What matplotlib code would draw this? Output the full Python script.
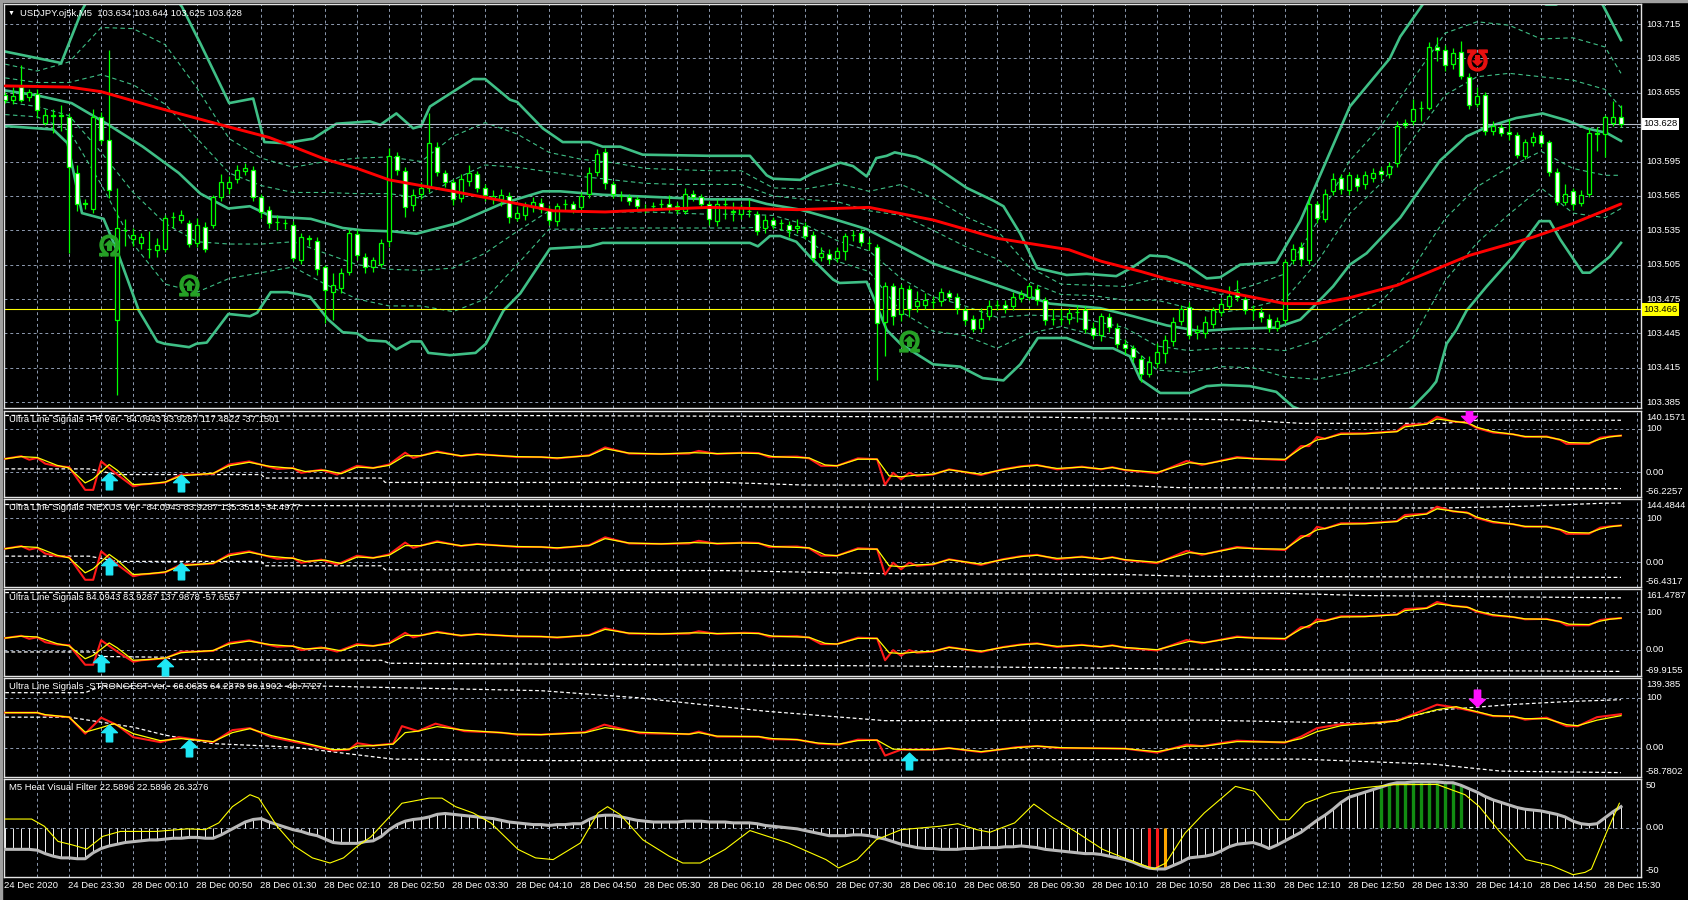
import numpy as np
import matplotlib.pyplot as plt
from matplotlib.path import Path
from matplotlib.markers import MarkerStyle
from matplotlib.transforms import Affine2D, blended_transform_factory
from matplotlib.patches import Rectangle

plt.rcParams['font.family'] = ['Liberation Sans', 'DejaVu Sans']
plt.rcParams['font.size'] = 6.8

# ---------------- main chart data (price in 0.001 above 103.000) ----------------
bar_open = [653,649,660,651,654,629,635,636,634,585, 559,554,634,614,457,535,527,524,519,518,
            519,547,544,541,524,538,540,564,572,580, 587,588,564,553,542,541,540,509,528,526,
            503,481,485,499,532,512,503,506,526,600, 587,557,567,572,608,585,577,563,578,584,
            572,562,562,565,546,548,555,559,554,543, 558,558,555,567,586,603,575,565,564,562,
            554,556,558,558,556,552,567,564,558,543, 558,551,549,552,549,537,544,541,540,537,
            539,531,512,514,511,517,531,533,524,520, 455,486,462,484,469,470,472,473,480,477,
            465,458,450,460,470,470,469,476,477,484, 474,458,458,458,464,465,450,444,459,450,
            436,432,423,410,419,428,438,456,468,446, 445,453,464,469,481,475,465,464,458,450,
            457,509,520,509,558,545,569,581,570,581, 575,581,587,584,594,629,630,642,642,695,
            692,680,691,669,645,653,622,625,621,618, 600,612,618,612,586,560,569,559,567,620,
            619,629,634]
bar_close = [649,652,649,656,640,636,636,635,590,558, 558,634,614,570,537,535,531,529,519,522,
             546,547,548,523,540,519,564,577,577,588, 589,564,551,541,542,541,511,529,527,501,
             483,487,498,533,513,503,509,524,600,588, 555,566,572,611,586,577,562,580,585,572,
             566,565,566,547,550,556,560,554,544,556, 558,554,565,585,602,576,567,565,561,556,
             554,556,558,555,553,567,564,558,545,558, 558,552,555,552,534,544,540,541,535,539,
             530,511,515,510,517,530,531,525,524,454, 486,460,485,466,473,474,472,481,477,467,
             457,449,458,469,470,467,477,479,486,474, 457,458,458,463,464,449,444,460,451,436,
             432,424,410,420,429,439,455,466,444,448, 455,465,471,478,477,465,465,459,450,456,
             507,519,510,558,546,567,580,571,583,574, 583,585,584,591,626,627,641,642,695,692,
             679,690,670,644,652,622,626,620,619,601, 612,616,611,586,560,567,558,566,620,619,
             634,634,628]
bar_high = [656,660,679,658,658,641,641,644,637,592, 562,641,638,692,572,545,537,533,534,528,
            548,551,553,544,546,542,566,584,582,592, 594,591,567,556,548,545,543,533,531,529,
            505,498,502,536,536,515,512,527,607,603, 590,571,577,637,612,588,580,584,592,587,
            575,570,571,568,556,560,564,563,557,559, 562,561,568,590,606,607,578,569,567,565,
            558,560,562,566,560,572,570,567,561,562, 563,560,558,562,552,548,547,545,543,545,
            542,534,520,519,520,533,535,536,528,523, 490,489,488,487,482,480,478,485,483,480,
            468,461,467,474,474,474,481,483,489,487, 477,466,466,467,470,469,455,463,463,454,
            440,435,426,425,437,444,459,470,472,452, 460,468,476,486,492,478,470,468,462,459,
            510,523,525,565,561,571,585,584,586,584, 587,589,590,595,630,632,650,648,699,704,
            697,694,700,672,660,656,630,628,632,621, 615,621,622,614,589,575,572,570,624,625,
            636,648,644]
bar_low = [646,645,647,648,633,627,620,622,515,552, 554,550,610,563,391,521,521,519,511,512,
           516,537,541,520,520,516,537,561,567,576, 583,561,546,537,535,536,508,506,521,496,
           454,457,480,496,509,498,499,503,520,583, 547,552,562,568,582,573,557,560,574,568,
           561,558,556,541,543,544,551,550,540,539, 553,550,551,563,582,571,563,561,557,552,
           550,552,554,551,549,549,561,555,540,539, 545,543,545,547,531,533,536,535,529,533,
           527,507,508,506,507,509,526,521,518,404, 425,452,456,459,464,466,467,469,473,462,
           452,446,446,457,465,463,465,472,474,470, 452,452,452,453,455,445,440,438,446,432,
           427,420,403,407,415,419,434,452,440,440, 441,450,460,466,473,462,457,455,446,447,
           454,506,504,506,541,542,566,567,566,569, 571,577,580,581,590,624,627,630,640,683,
           674,676,667,641,643,618,618,617,614,598, 597,609,608,582,557,557,553,556,564,604,
           599,626,625]

ma_x = [0,8,12,18.5,27,33,36,40,44,48,52,56,62,68.5,75,81,88,99,108,116,124,133,137,142,145,
        153.5,160,164,168,174,183,191,196,202]
ma_v = [661,660,656,643,627,616,608,597,589,579,574,569,561,552,551,553,555,553,555,544,528,518,
        508,499,493,480,471,471,476,487,513,529,541,558]

upper_x = [0,7,9.6,10.3,14,18,21,22.1,24.4,28,31,32.4,35,38.5,41.4,45.6,46.9,48.9,51,52,53.1,56,
           58.5,60,63.1,64,67.2,69.7,73.1,74.7,76.9,79.7,88.1,93.1,95.2,96,99.4,101,104.4,106,
           107.7,108.9,110.2,111.2,113.9,116,120.2,123.5,124.8,126.9,129,132.7,135.2,138.9,141,
           143.1,145.2,147.7,150.2,151.9,154.4,158.9,161.9,168.1,173.1,174.4,177.3,180,185,190,
           192.6,193.9,197,199.7,202]
upper_v = [691,681,727,736,760,760,740,730,698,646,650,612,611,615,628,630,627,637,624,626,643,656,
           667,667,649,647,624,612,612,608,608,601,600,600,583,580,579,585,594,591,
           582,598,600,603,599,592,572,561,556,532,502,496,497,495,503,
           513,512,505,493,494,505,507,543,643,685,704,733,760,770,750,
           732,732,745,732,701]
mid_x = [0,3.8,8.3,12.7,17.2,21.7,24.4,27.9,30.6,33.3,38.2,42.2,44.7,48.5,51.4,56.4,62,67.2,69.4,
         74.7,88.1,93.1,95.2,99.4,103.5,107.7,111.9,116,120.2,124.4,128.5,130.6,136.9,141,145.2,
         149.3,153.5,158.9,161.9,163.5,166,168.1,170.2,174.4,179.4,182.7,185.2,188.9,192.2,195.2,
         197.7,200.2,202]
mid_v = [657,653,646,628,608,585,567,554,556,547,545,537,535,534,532,541,558,569,569,
         566,562,562,558,553,545,536,521,506,496,486,476,471,467,460,452,
         447,449,450,457,468,486,505,515,546,596,617,625,633,637,631,
         624,620,613]
lower_x = [0,6,7.8,9.6,12.3,14.1,16.7,19,19.9,23,23.9,25.2,27.9,30.6,31.5,33.2,35.3,38.1,40.4,42.2,
           44,45.3,47.6,48.9,50.7,52,52.9,55.6,58.8,60.1,62.3,64.4,68.1,73.1,74.7,83.1,88.1,93.1,
           94.1,95.6,96.9,98.9,100.6,103.5,104.3,107.7,108.5,110.2,111.9,116,119.4,122.2,124.8,
           126.9,129.1,132.7,136,138.5,140.6,141.9,144.4,148.1,150.2,152.2,155.6,158.9,161,165,
           170,174,176,178.1,178.9,180.2,181.4,182.7,185.2,188.5,191.8,193.1,194.4,197.2,198.1,
           200.6,202]
lower_v = [626,623,611,550,545,515,465,438,436,433,436,437,462,460,463,481,481,477,457,446,
           445,439,438,431,438,438,428,426,428,436,465,480,519,521,524,524,524,524,
           521,530,530,525,512,492,489,490,477,448,436,418,416,406,404,
           418,441,441,432,432,425,405,393,393,399,400,399,394,381,370,
           365,372,381,396,403,436,448,465,486,512,543,543,527,498,498,
           512,524]

# inner (dashed) bands sampled every 4 bars plus the last bar
inner_x = list(range(0, 201, 4)) + [202]
inner_up2 = [680,674,682,712,711,697,659,615,598,590,595,598,599,595,617,629,619,603,597,594,589,588,
             587,587,572,571,576,569,575,563,547,535,503,488,487,486,493,486,479,487,497,542,595,626,
             667,707,717,714,702,703,695,672]
inner_up1 = [668,664,664,671,662,645,615,585,574,568,568,567,567,563,579,592,590,586,582,579,576,575,
             575,575,565,562,560,552,548,535,521,510,490,479,478,474,474,467,463,468,475,507,549,576,
             615,653,669,672,669,666,658,642]
inner_lo1 = [647,643,635,603,568,541,525,523,523,525,515,505,501,500,502,515,534,552,551,551,551,550,
             549,549,548,540,526,517,493,477,469,459,461,460,456,450,434,430,432,432,430,439,457,473,
             502,545,573,590,604,589,583,583]
inner_lo2 = [636,634,622,575,523,488,481,493,498,503,488,475,469,469,464,475,505,536,536,537,537,537,
             537,537,538,528,508,499,464,447,443,432,445,451,444,439,413,411,416,415,407,405,411,421,
             441,491,524,549,572,550,546,554]

price_ticks = [103.385,103.415,103.445,103.475,103.505,103.535,103.565,103.595,103.625,103.655,103.685,103.715]
price_now = 103.628
price_line_yellow = 103.466

sig_up_x, sig_up_v = [13, 23, 113], [522, 487, 438]
sig_dn_x, sig_dn_v = [184], [684]

# ---------------- Ultra Line Signals (FR / NEXUS / plain share lines) ----------------
uls_red_x = [0,2,3,4,5,6.5,8,10,11,12,14,16,17,20,22,24,26,28,30.5,32.5,34,36,37,39.5,41.5,44,46,48,50,51,
             54,57,59,64,67,69,73,75,78,82,85.5,86.7,89,92.4,94.2,95.5,99,100.5,102,104,106.6,109,110,111,
             112,113,114,116,118,122,124.7,127,129,131.5,134.6,137,138.4,140,144,147.7,149.6,154,156.4,160,
             162,163,164,165,167,170,174,175,177.7,179,181,182.7,184,186,188.5,190,192.7,194.4,195.2,198,
             199.4,200.6,202]
uls_red_v = [31,37,29,33,20,14,12,-40,-40,25,-5,-32,-28,-23,-5,-5,-3,18,25,15,8,10,-1,6,-5,15,10,18,45,33,
             48,37,42,35,35,32,39,57,43,42,43,49,42,45,44,35,36,32,15,15,32,30,-28,-1,
             -16,-1,-8,-5,7,-6,7,14,17,7,13,7,12,5,-2,26,17,35,31,28,
             60,60,81,77,89,89,94,108,111,127,116,114,101,91,87,81,82,74,65,65,
             79,82,84]
uls_yel_x = [0,2,4,6.5,8,10,11,13,14,16,18,20,22,24,26,28,30.5,33,36,37.5,40,42,44,46,48,50,52,54,57,59,
             64,67,69,73,75,78,82,86,89,92,94.2,96,100.5,102.5,104,106.6,109,110.5,112,114,116,118,122,
             124.7,127,129,131.5,134.6,137,138.4,140,144,148,150,154,156.4,160,162,164,165,167,170,174,
             175,177.7,179,181,183,184,186,188.5,190,192.7,194.4,195.5,198,199.4,200.6,202]
uls_yel_v = [31,36,34,16,10,-24,-15,18,5,-28,-26,-22,-8,-5,-2,15,23,14,9,2,5,-3,12,10,16,38,38,46,38,41,
             36,35,33,38,54,44,42,45,43,44,43,36,33,17,15,30,30,-8,-10,-6,-4,6,-4,
             6,13,16,9,12,8,11,6,0,22,19,33,31,30,55,74,77,87,88,93,
             104,110,122,117,112,103,93,87,82,81,75,68,67,76,81,84]

fr_hi_x, fr_hi_v = [0,36,60,130,154,162,180,184,202], [130,129,130,126,120,112,112,119,119]
fr_lo_x = [0,10.5,14,32,32.5,47,47.5,90,100,140,147,202]
fr_lo_v = [8,8,-5,-5,-13,-13,-23,-23,-29,-30,-35,-37]
fr_up_x, fr_up_v, fr_dn_x, fr_dn_v = [13,22], [-20,-24], [183], [131]

nx_hi_x, nx_hi_v = [0,60,130,162,180,190,200,202], [132,128,125,124,124,128,135,135]
nx_lo_x = [0,10.5,14,32,32.5,47,47.5,90,110,140,148,202]
nx_lo_v = [14,14,2,2,-8,-8,-17,-19,-26,-28,-32,-34.5]
nx_up_x, nx_up_v = [13,22], [-8,-20]

pl_hi_x, pl_hi_v = [0,80,160,170,202], [152,152,150,144,138]
pl_lo_x = [0,11,12,20,21,47,48,110,150,202]
pl_lo_v = [-6,-6,-18,-20,-26,-28,-36,-43,-52,-57.7]
pl_up_x, pl_up_v = [12,20], [-36,-47]

# ---------------- STRONGEST version ----------------
st_red_x = [0,4,5,8,10,12,14,16,19.4,21.7,26,28.4,30.6,33.3,37.3,41,43,44,46,48.5,49.6,51.6,53.8,57.4,62,
            64,67,72.5,74.9,79.3,85.5,86.7,89,94.2,95.5,99,101.7,104.2,106.6,109,110,112,116,118,122,
            126.5,129,132,135,140,144,147.7,149.6,154,160,162,164,167,170,174,175.6,179,181.4,184,186,
            188.5,190,192.7,195.2,196.6,199,202]
st_red_v = [70,70,65,61,28,60,45,21,11,21,11,35,39,21,8,-6,-4,9,4,8,43,33,48,33,30,
            26,26,31,46,29,27,32,22,22,17,16,8,6,16,15,-16,-4,-4,-1,-9,
            1,3,-1,-1,-2,-10,6,3,14,10,22,39,47,48,54,64,86,80,71,63,
            63,56,60,43,43,61,67]
st_yel_x = [0,4,5,8,10,12,13.6,16,19.4,22,26,28.4,30.6,33.3,37.3,41,43,44,46,48.5,50,51.6,54,57.4,62,
            64,67,72.5,75,79.3,85.5,86.7,89,94.2,96,99,101.7,104.2,106.6,109,111,113,116,118,122,
            126.5,129,132,135,140,144,147.7,150,154,160,162,164,167,170,174,175.6,179,181.4,184,186,
            188.5,190,192.7,195.2,196.6,199,202]
st_yel_v = [70,70,66,61,31,40,48,28,14,18,12,30,38,24,10,-4,-3,3,4,7,30,33,42,35,30,
            27,26,30,40,31,27,30,23,22,18,16,9,7,14,15,-3,-4,-4,-1,-8,
            0,3,0,-1,-2,-8,3,3,12,11,18,32,44,48,53,62,76,82,72,64,
            62,58,58,46,44,55,64]
st_hi_x = [0,10,12,40,67,79,95,110,150,172,179,184,188,195,202]
st_hi_v = [110,110,123,123,114,100,73,54,55,48,75,81,86,92,96]
st_lo_x = [0,8,16,20,26,36,48.5,69,110,162,178.5,187,202]
st_lo_v = [61,61,41,25,8,1,-23,-26,-25,-23,-33,-47,-50]
st_up_x, st_up_v, st_dn_x, st_dn_v = [13,23,113], [29,-1,-27], [184], [99]

# ---------------- M5 Heat Visual Filter ----------------
heat_gray = [-25,-25,-25,-25,-26,-30,-33,-35,-35,-36, -36,-29,-24,-21,-19,-17,-16,-15,-14,-14,
             -13,-12,-12,-11,-11,-12,-12,-8,-3,2, 7,10,11,7,4,1,-2,-4,-7,-9,
             -13,-17,-18,-18,-18,-16,-15,-10,-2,4, 8,10,11,13,16,17,16,15,14,13,
             12,11,9,7,6,5,4,4,3,4, 4,5,5,10,14,15,15,13,11,9,
             8,7,7,7,7,8,8,8,7,7, 7,6,6,6,5,3,2,1,0,-1,
             -3,-5,-7,-9,-9,-9,-8,-8,-9,-11, -13,-16,-19,-21,-23,-24,-24,-25,-25,-25,
             -24,-24,-23,-23,-23,-22,-22,-21,-22,-23, -25,-26,-27,-28,-29,-30,-30,-31,-33,-35,
             -37,-40,-44,-47,-48,-48,-44,-40,-35,-34, -33,-31,-27,-22,-19,-18,-17,-20,-24,-20,
             -15,-10,-5,2,9,15,22,30,36,39, 42,45,48,51,53,53,54,54,54,54,
             53,53,50,46,42,37,33,30,27,24, 22,21,20,18,16,13,8,5,4,5,
             12,19,25]
heat_red_bars = [143, 144]
heat_orange_bars = [145]
heat_green_bars = list(range(172, 183))
heat_yel_x = [0,3.3,4.9,6.6,8.3,10.2,12.2,14.4,18.9,22.8,25,26.7,28.4,30.6,31.7,34,36.2,38.4,40.6,42.3,
              44,45.7,47.9,49.6,53,54.6,56.3,58.5,60.7,64.1,66.3,68.5,71.9,74.1,75.3,76.9,79.7,83,84.7,
              86.9,90,93.1,97.9,102.6,104.2,106.5,108.9,112,116.8,119.1,121.5,123.1,126.2,128.6,131,134.1,
              137.2,140.4,143.6,145.1,147.5,149.9,153.8,156.2,159.3,160.5,162.5,165.8,169.6,173.5,179,
              182.5,184.3,186.8,190.1,193.3,196,197.5,198.3,200.2,201.8]
heat_yel_v = [10.5,10.5,2,-15.7,-19.6,-24.6,-9.8,-4,-4,-1,-2,6,25,39,35,2,-21.5,-35,-41,-35,
              -21.5,-10.5,11.7,29,35,35,25,17.6,6,-25,-35,-37,-17.6,17.6,25,15.6,-13.7,-33,-41,
              -41,-25,-3,-17.6,-37,-46.8,-37,-13.7,-2,2,5,-2,-5,6,28,12,-6,
              -25,-37,-48,-41,-6,17.6,48.8,43,9.7,9.7,29,41,47,50.7,51,
              39,25,-4,-37,-44,-54.7,-52,-48,-5,29]

time_labels = ['24 Dec 2020', '24 Dec 23:30', '28 Dec 00:10', '28 Dec 00:50', '28 Dec 01:30',
               '28 Dec 02:10', '28 Dec 02:50', '28 Dec 03:30', '28 Dec 04:10', '28 Dec 04:50',
               '28 Dec 05:30', '28 Dec 06:10', '28 Dec 06:50', '28 Dec 07:30', '28 Dec 08:10',
               '28 Dec 08:50', '28 Dec 09:30', '28 Dec 10:10', '28 Dec 10:50', '28 Dec 11:30',
               '28 Dec 12:10', '28 Dec 12:50', '28 Dec 13:30', '28 Dec 14:10', '28 Dec 14:50',
               '28 Dec 15:30']

# ---------------- drawing ----------------
W, H = 1688, 900
GRID = '#8f9cb2'
BAND = '#3fbf86'
FRAME = '#e4e4e4'

fig = plt.figure(figsize=(W / 100, H / 100), dpi=100)
fig.patch.set_facecolor('black')
fig.patches.append(Rectangle((0, 1 - 2 / H), 1, 2 / H, transform=fig.transFigure, color='#a0a0a0'))
fig.patches.append(Rectangle((0, 0), 2 / W, 1, transform=fig.transFigure, color='#a0a0a0'))


def make_ax(top, bottom):
    ax = fig.add_axes([4 / W, 1 - bottom / H, 1637 / W, (bottom - top) / H])
    ax.set_facecolor('black')
    for s in ax.spines.values():
        s.set_color(FRAME)
        s.set_linewidth(1.0)
    ax.set_xlim(-0.15, 204.5)
    ax.set_xticks([])
    ax.set_yticks([])
    for k in range(4, 205, 4):
        ax.axvline(k, color=GRID, lw=0.7, ls=(0, (3, 3)), zorder=0)
    return ax


def rlabel(ax, y, s, va='center', coords='data'):
    tr = ax.get_yaxis_transform() if coords == 'data' else ax.transAxes
    ax.text(1.003, y, s, transform=tr, color='white', va=va, ha='left', clip_on=False)


def pr(v):
    return 103 + np.asarray(v, dtype=float) / 1000


up_arrow = Path([(0, 1), (0.95, 0.1), (0.38, 0.1), (0.38, -1), (-0.38, -1), (-0.38, 0.1), (-0.95, 0.1), (0, 1)],
                closed=True)
dn_arrow = Path([(x, -y) for x, y in up_arrow.vertices], closed=True)

# ---- main price panel ----
ax = make_ax(4, 408)
ax.set_ylim(103.3799, 103.7325)
for p in price_ticks:
    ax.axhline(p, color=GRID, lw=0.7, ls=(0, (3, 3)), zorder=0)
    if abs(p - 103.625) > 1e-6:
        rlabel(ax, p, f'{p:.3f}')

for yv in (inner_up2, inner_up1, inner_lo1, inner_lo2):
    ax.plot(inner_x, pr(yv), color=BAND, lw=0.8, ls=(0, (4, 3)), zorder=2)
for bx, bv in ((upper_x, upper_v), (mid_x, mid_v), (lower_x, lower_v)):
    ax.plot(bx, pr(bv), color=BAND, lw=1.9, zorder=2)

ax.axhline(price_now, color='#b4bccb', lw=0.8, zorder=2)
ax.axhline(price_line_yellow, color='#ffff00', lw=0.8, zorder=2)

o, c = pr(bar_open), pr(bar_close)
h, l = pr(bar_high), pr(bar_low)
xs = np.arange(len(o))
ax.vlines(xs, l, h, color='#00ff00', lw=0.9, zorder=3)
ax.bar(xs, c - o, bottom=o, width=0.55, color=np.where(c > o, 'black', 'white'),
       edgecolor='#00ff00', linewidth=0.9, zorder=4)

ax.plot(ma_x, pr(ma_v), color='#ff0000', lw=2.1, zorder=5, solid_capstyle='round')

omega_up = MarkerStyle(r'$\Omega$')
omega_dn = MarkerStyle(r'$\Omega$', transform=Affine2D().rotate_deg(180))
ax.plot(sig_up_x, pr(sig_up_v), ls='none', marker=omega_up, ms=15, color='#26a226', zorder=6)
ax.plot(sig_up_x, pr(sig_up_v), ls='none', marker=up_arrow, ms=7, color='#26a226', zorder=6)
ax.plot(sig_dn_x, pr(sig_dn_v), ls='none', marker=omega_dn, ms=15, color='#e81010', zorder=6)
ax.plot(sig_dn_x, pr(sig_dn_v), ls='none', marker=dn_arrow, ms=7, color='#e81010', zorder=6)

ax.text(1.0015, price_now, '103.628', transform=ax.get_yaxis_transform(), color='black', va='center',
        ha='left', clip_on=False, bbox=dict(boxstyle='square,pad=0.18', fc='white', ec='none'))
ax.text(1.0015, price_line_yellow, '103.466', transform=ax.get_yaxis_transform(), color='black',
        va='center', ha='left', clip_on=False, bbox=dict(boxstyle='square,pad=0.18', fc='#ffff00', ec='none'))

fig.text(8 / W, 1 - 13 / H, '▼', color='white', va='center', ha='left', fontsize=5)
fig.text(20 / W, 1 - 13 / H, 'USDJPY.oj5k,M5  103.634 103.644 103.625 103.628', color='white',
         va='center', ha='left')

# ---- signal panels ----
panels = [
    (411, 497, -56.2257, 140.1571, uls_red_x, uls_red_v, uls_yel_x, uls_yel_v, fr_hi_x, fr_hi_v, fr_lo_x, fr_lo_v,
     fr_up_x, fr_up_v, fr_dn_x, fr_dn_v, 'Ultra Line Signals -FR Ver.- 84.0943 83.9287 117.4822 -37.1501',
     '140.1571', '-56.2257'),
    (499, 587, -56.4317, 144.4844, uls_red_x, uls_red_v, uls_yel_x, uls_yel_v, nx_hi_x, nx_hi_v, nx_lo_x, nx_lo_v,
     nx_up_x, nx_up_v, [], [], 'Ultra Line Signals -NEXUS Ver.- 84.0943 83.9287 135.3518 -34.4977',
     '144.4844', '-56.4317'),
    (589, 676, -69.9155, 161.4787, uls_red_x, uls_red_v, uls_yel_x, uls_yel_v, pl_hi_x, pl_hi_v, pl_lo_x, pl_lo_v,
     pl_up_x, pl_up_v, [], [], 'Ultra Line Signals 84.0943 83.9287 137.9878 -57.6557',
     '161.4787', '-69.9155'),
    (678, 777, -58.7802, 139.385, st_red_x, st_red_v, st_yel_x, st_yel_v, st_hi_x, st_hi_v, st_lo_x, st_lo_v,
     st_up_x, st_up_v, st_dn_x, st_dn_v, 'Ultra Line Signals -STRONGEST Ver.- 66.0635 64.2378 96.1902 -49.7727',
     '139.385', '-58.7802'),
]
for (top, bot, lo, hi, rx, rv, yx, yv, hx, hv, lx, lv, ux, uv, dx, dv, title, lab_hi, lab_lo) in panels:
    a = make_ax(top, bot)
    a.set_ylim(lo, hi)
    hp = bot - top
    for g in (100, 0):
        a.axhline(g, color=GRID, lw=0.7, ls=(0, (3, 3)), zorder=0)
    a.plot(hx, hv, color='white', lw=0.9, ls=(0, (3, 2)), zorder=2)
    a.plot(lx, lv, color='white', lw=0.9, ls=(0, (3, 2)), zorder=2)
    a.plot(rx, rv, color='#ff1a1a', lw=1.5, zorder=3)
    a.plot(yx, yv, color='#ffff00', lw=0.9, zorder=4)
    if ux:
        a.plot(ux, uv, ls='none', marker=up_arrow, ms=12, color='#1ee6f5', zorder=5)
    if dx:
        a.plot(dx, dv, ls='none', marker=dn_arrow, ms=12, color='#ff10ff', zorder=5)
    rlabel(a, 1 - 2 / hp, lab_hi, va='top', coords='axes')
    rlabel(a, 100, '100')
    rlabel(a, 0, '0.00')
    rlabel(a, 1 / hp, lab_lo, va='bottom', coords='axes')
    a.text(5 / 1637, 1 - 8.5 / hp, title, transform=a.transAxes, color='white', va='center', ha='left')

# ---- heat filter panel ----
ax5 = make_ax(779, 877)
ax5.set_ylim(-57.4, 57.4)
ax5.axhline(0, color=GRID, lw=0.7, ls=(0, (3, 3)), zorder=0)
bar_cols, bar_w = [], []
for i in range(len(heat_gray)):
    if i in heat_red_bars:
        bar_cols.append('#ff1a1a'); bar_w.append(2.2)
    elif i in heat_orange_bars:
        bar_cols.append('#ffa500'); bar_w.append(2.2)
    elif i in heat_green_bars:
        bar_cols.append('#128c12'); bar_w.append(2.4)
    else:
        bar_cols.append('#f4f4f4'); bar_w.append(0.7)
ax5.vlines(np.arange(len(heat_gray)), 0, heat_gray, colors=bar_cols, linewidths=bar_w, zorder=2)
ax5.plot(np.arange(len(heat_gray)), heat_gray, color='#b8b8b8', lw=2.2, zorder=3)
ax5.plot(heat_yel_x, heat_yel_v, color='#ffff00', lw=0.8, zorder=4)
rlabel(ax5, 50, '50')
rlabel(ax5, 0, '0.00')
rlabel(ax5, -50, '-50')
ax5.text(5 / 1637, 1 - 8.5 / 98, 'M5 Heat Visual Filter 22.5896 22.5896 26.3276', transform=ax5.transAxes,
         color='white', va='center', ha='left')

tr = blended_transform_factory(ax5.transData, ax5.transAxes)
for k, lab in enumerate(time_labels):
    ax5.text(8 * k - 0.1, -9 / 98, lab, transform=tr, color='white', va='center', ha='left', clip_on=False)

fig.savefig('out.png', dpi=100, facecolor='black')
